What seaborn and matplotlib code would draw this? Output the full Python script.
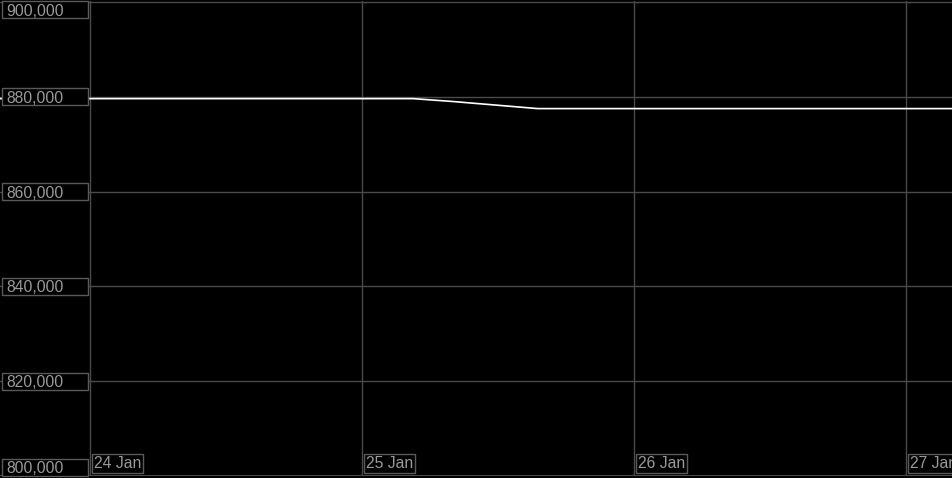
import pandas as pd
import seaborn as sns
import matplotlib.pyplot as plt
import matplotlib.dates as mdates
import matplotlib.transforms as mtransforms
from matplotlib.patches import Rectangle

# Values
times = ['2024-01-23 12:00', '2024-01-25 04:30', '2024-01-25 08:00',
         '2024-01-25 12:00', '2024-01-25 15:30', '2024-01-27 06:00']
values = [879600, 879600, 879000, 878200, 877500, 877500]
y_ticks = [800000, 820000, 840000, 860000, 880000, 900000]
x_ticks = ['2024-01-24', '2024-01-25', '2024-01-26', '2024-01-27']
x_labels = ['24 Jan', '25 Jan', '26 Jan', '27 Jan']

df = pd.DataFrame({'time': pd.to_datetime(times), 'value': values})

sns.set_style('dark')
plt.rcParams['font.family'] = ['Liberation Sans', 'DejaVu Sans']

W, H = 953, 478
fig = plt.figure(figsize=(W / 100, H / 100), dpi=100, facecolor='black')
ax = fig.add_axes([0, 0.004, 1, 0.994])
ax.set_facecolor('black')

sns.lineplot(data=df, x='time', y='value', color='white', lw=1.2, ax=ax)

x0 = pd.Timestamp('2024-01-24') - pd.Timedelta(days=90 / 272)
x1 = pd.Timestamp('2024-01-27') + pd.Timedelta(days=47 / 272)
ax.set_xlim(x0, x1)
y0, y1 = 800000, 900200
ax.set_ylim(y0, y1)

grid_col = '#4a4a4a'
xt = pd.to_datetime(x_ticks)
for t in xt:
    ax.axvline(t, color=grid_col, lw=1, zorder=0)
for v in y_ticks[1:]:
    ax.axhline(v, color=grid_col, lw=1, zorder=0)
ax.axhline(800000, color=grid_col, lw=1.5, zorder=0)

ax.set_xticks([])
ax.set_yticks([])
ax.set_xlabel('')
ax.set_ylabel('')
for s in ax.spines.values():
    s.set_visible(False)

edge_col = '#5a5a5a'
txt_col = '#9a9a9a'
fs = 11.3

# y labels in fixed-width boxes, clamped inside the axes
ax_h_px = H * 0.994
per_px = (y1 - y0) / ax_h_px
box_h = 17 * per_px
ytr = mtransforms.blended_transform_factory(ax.transAxes, ax.transData)
for v in y_ticks:
    bottom = v - box_h / 2
    if v == y_ticks[0]:
        bottom = y0 + 0.5 * per_px
    elif v == y_ticks[-1]:
        bottom = y1 - box_h - 0.5 * per_px
    ax.add_patch(Rectangle((2 / W, bottom), 86 / W, box_h, transform=ytr,
                           fc='black', ec=edge_col, lw=1, zorder=5, clip_on=False))
    ax.text(6 / W, bottom + box_h / 2, f'{v:,}', transform=ytr, ha='left', va='center_baseline',
            fontsize=fs, color=txt_col, zorder=6)

# x labels at bottom
xtr = mtransforms.blended_transform_factory(ax.transData, ax.transAxes)
box = dict(boxstyle='square,pad=0.12', fc='black', ec=edge_col, lw=1)
for t, lab in zip(xt, x_labels):
    ax.text(mdates.date2num(t) + 0.013, 0.01, lab, transform=xtr, ha='left', va='bottom',
            fontsize=fs, color=txt_col, bbox=box, zorder=5, clip_on=False)

fig.savefig('out.png', dpi=100, facecolor='black')
